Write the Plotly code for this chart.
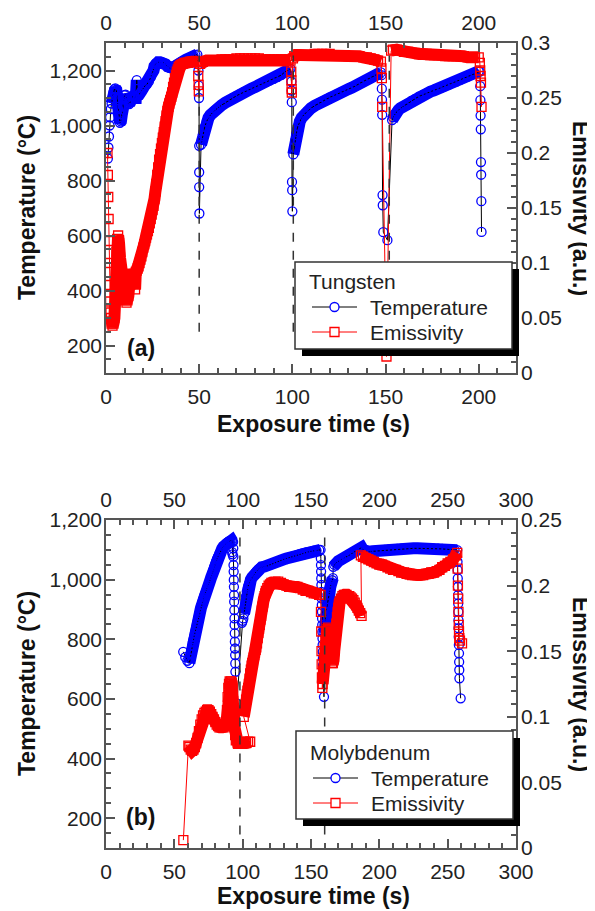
import plotly.graph_objects as go

FONT = "Arial, 'Liberation Sans', sans-serif"
W, H = 595, 911
PAGE = 8  # default body margin of the html page

# ---------------- (a) Tungsten ----------------
w_temp_time = [1.0, 1.3, 1.6, 1.9, 2.2, 2.6, 3.0, 3.5, 4.0, 4.5, 5.0, 5.5, 6.0, 6.5, 7.0, 7.5, 8.0, 8.5, 9.0, 9.5,
               10.0, 10.5, 11.0, 11.5, 12.0, 12.5, 13.0, 13.5, 14.0, 14.5, 15.0, 15.5, 16.0, 16.5, 17.0, 17.5, 18.0, 19.0, 20.0,
               21, 22, 23, 24, 25, 25.5, 26, 26.5, 27, 28, 29, 30, 31, 32, 33, 34, 35, 36, 37, 38, 39, 40,
               41, 42, 43, 44, 45, 46, 47, 48, 49,
               49.6, 49.8, 49.9, 50.0, 50.0, 50.0, 50.1,
               51.0, 51.5, 52.0, 52.5, 53.0, 54, 55, 56, 57, 58, 59, 60, 62, 64, 66, 68, 70, 72, 74, 76, 78, 80,
               82, 84, 86, 88, 90, 92, 94, 96, 98, 99,
               99.5, 99.6, 99.7, 99.8, 99.9, 100.0,
               100.5, 101, 101.5, 102, 102.5, 103, 104, 105, 106, 107, 108, 110, 112, 114, 116, 118, 120, 122, 124,
               126, 128, 130, 132, 134, 136, 138, 140, 142, 144, 146, 147.5,
               147.8, 148.0, 148.1, 148.2, 148.4, 148.5, 148.8, 151.0,
               153.5, 154, 155, 156, 157, 158, 160, 162, 164, 166, 168, 170, 172, 174, 176, 178, 180, 182, 184, 186,
               188, 190, 192, 194, 196, 198, 200,
               200.6, 200.8, 200.9, 201.0, 201.1, 201.2, 201.3, 201.4, 201.5]
w_temp = [880, 920, 960, 1000, 1030, 1060, 1080, 1100, 1120, 1132, 1135, 1130, 1100, 1060, 1030, 1010, 1015, 1040, 1070, 1095,
          1110, 1112, 1100, 1090, 1080, 1078, 1085, 1095, 1105, 1110, 1105, 1100, 1100, 1165, 1105, 1110, 1115, 1125, 1135,
          1145, 1150, 1160, 1175, 1192, 1200, 1215, 1225, 1228, 1230, 1230, 1230, 1228, 1222, 1215, 1210, 1208, 1210, 1215,
          1222, 1226, 1230,
          1233, 1236, 1240, 1243, 1246, 1250, 1254, 1256, 1258,
          1200, 1145, 1100, 926, 830, 776, 680,
          930, 950, 968, 982, 995, 1015, 1028, 1038, 1046, 1053, 1059, 1064, 1074, 1083, 1092, 1100, 1108, 1115, 1122, 1128,
          1134, 1140, 1146, 1152, 1158, 1164, 1170, 1176, 1183, 1195, 1203, 1206,
          1160, 1127, 1085, 795, 765, 688,
          895, 920, 945, 965, 985, 998, 1015, 1028, 1038, 1045, 1052, 1063, 1072, 1080, 1088, 1095, 1102, 1108, 1114,
          1120, 1126, 1132, 1138, 1144, 1153, 1160, 1167, 1174, 1181, 1189, 1193,
          1183, 1134, 1094, 1039, 747, 710, 612, 583,
          1020, 1030, 1042, 1050, 1057, 1063, 1072, 1080, 1090, 1098, 1106, 1112, 1118, 1123, 1128, 1133, 1138, 1143, 1149,
          1155, 1160, 1166, 1172, 1178, 1184, 1190, 1197,
          1196, 1143, 1092, 1036, 986, 867, 821, 725, 613]
# index ranges of the densely sampled heating runs (drawn as solid bands)
w_temp_runs = [(6, 70), (77, 109), (115, 146), (154, 181)]

w_emis_time = [0.8, 1.0, 1.2, 1.4, 1.6, 1.8, 2.0, 2.2, 2.4, 2.7, 3.0, 3.5, 4.0, 4.5, 5.0, 5.3, 5.6, 6.0, 6.5, 7.0,
               7.5, 8.0, 8.5, 9.0, 9.5, 10.0, 10.5, 11.0, 11.5, 12.0, 12.5, 13.0, 13.5, 14.0, 14.5, 15.0, 15.6, 16.0, 16.5, 17.0,
               17.5, 18.0, 18.5, 19.0, 19.5, 20.0, 20.5, 21.0, 21.5, 22.0, 22.5, 23.0, 23.5, 24.0, 24.5, 25.0, 25.5, 26.0, 26.5, 27.0,
               27.5, 28.0, 28.5, 29.0, 29.5, 30.0, 30.5, 31.0, 31.5, 32.0, 32.5, 33.0, 33.5, 34.0, 34.5, 35.0, 35.5, 36.0, 36.5, 37.0,
               37.5, 38.0, 38.5, 39.0, 39.5, 40, 41, 42, 43, 44, 45, 46, 47, 48, 49,
               49.5, 49.7, 49.8,
               50.5, 52, 54, 56, 58, 60, 62, 64, 66, 68, 70, 72, 74, 76, 78, 80, 82, 84, 86, 88, 90, 92, 94, 96, 98, 99,
               99.4, 99.5, 99.6, 99.7,
               100.3, 101, 102, 104, 106, 108, 110, 112, 114, 116, 118, 120, 122, 124, 126, 128, 130, 132, 134, 136, 138,
               140, 142, 144, 146, 147.5,
               147.8, 148.0, 148.2, 150.5,
               153, 154, 156, 158, 160, 162, 164, 166, 168, 170, 172, 174, 176, 178, 180, 182, 184, 186, 188, 190, 192,
               194, 196, 198, 200,
               200.6, 200.8, 201.0, 201.2, 201.5]
w_emis = [.200, .180, .160, .140, .120, .100, .080, .065, .055, .050, .045, .043, .045, .050, .070, .090, .110, .122, .125, .118,
          .105, .092, .082, .075, .070, .068, .066, .064, .066, .070, .080, .088, .090, .090, .089, .090, .076, .092, .093, .095,
          .097, .100, .103, .106, .110, .114, .117, .120, .123, .126, .129, .132, .136, .140, .144, .148, .152, .158, .165, .172,
          .180, .187, .194, .199, .204, .209, .214, .219, .224, .229, .234, .238, .242, .245, .248, .251, .255, .260, .264, .268,
          .271, .274, .276, .278, .279, .280, .281, .282, .282, .282, .283, .283, .283, .283, .283,
          .270, .262, .256,
          .281, .283, .284, .284, .284, .284, .285, .285, .285, .285, .286, .286, .286, .286, .286, .286, .286, .285, .285,
          .285, .285, .285, .285, .285, .285, .284,
          .274, .266, .258, .255,
          .286, .288, .289, .289, .289, .289, .289, .290, .290, .290, .290, .290, .289, .289, .289, .289, .288, .288, .288,
          .288, .287, .287, .286, .285, .284, .283,
          .277, .268, .242, .015,
          .293, .294, .294, .293, .292, .292, .291, .291, .290, .290, .290, .289, .289, .289, .289, .288, .288, .288, .288,
          .288, .288, .287, .287, .287, .287,
          .282, .275, .270, .264, .242]
w_emis_runs = [(9, 95), (98, 124), (128, 154), (158, 183)]

w_cool_marks = [50, 100.5, 152]          # dashed markers, s
w_cool_span = [250, 1255]                # degC

# ---------------- (b) Molybdenum ----------------
m_temp_time = [56.5, 58.0, 59.5, 61.0, 61.5, 62.0, 62.5, 63.0, 63.5, 64.0, 64.5, 65.0, 65.5, 66.0, 66.5, 67.0, 67.5, 68.0, 68.5, 69.0,
               69.5, 70.0, 70.5, 71.0, 71.5, 72.0, 72.5, 73.0, 73.5, 74.0, 74.5, 75.0, 75.5, 76.0, 76.5, 77.0, 77.5, 78.0, 78.5, 79.0,
               79.5, 80.0, 80.5, 81.0, 81.5, 82.0, 83.0, 84.0, 85.0, 86.0, 87.0, 88.0, 89.0, 90.0, 91.0, 92.0, 92.5, 92.3, 92.6,
               93.0, 93.1, 93.2, 93.3, 93.4, 93.5, 93.6, 93.7, 93.8, 93.9, 94.0, 94.1, 94.2, 94.3, 94.4, 94.5, 94.6, 94.7, 95.7,
               99.5, 100.0, 100.5, 101.0, 101.5, 102.0, 102.5, 103.0, 103.5, 104.0, 104.5, 105.0, 106, 107, 108, 109, 110, 111, 112, 113,
               114, 116, 118, 120, 122, 124, 126, 128, 130, 132, 134, 136, 138, 140, 142, 144, 146, 148, 150, 152, 154, 156, 157,
               157.2, 157.3, 157.4, 157.5, 157.6, 157.7, 157.8, 157.9, 158.0, 158.1, 158.2, 158.3, 158.4, 158.5, 158.6, 158.7,
               158.8, 158.9, 159.0, 159.5,
               159.8, 160.2, 160.6, 161.0, 161.5, 162.0, 162.5, 163.0, 163.5, 164.0, 164.5, 165.0, 165.5, 166.0,
               166.3, 167, 168, 169, 170, 171, 172, 174, 176, 178, 180, 182, 184, 186, 187, 188, 190, 192, 195, 198,
               201, 204, 207, 210, 213, 216, 219, 222, 225, 228, 231, 234, 237, 240, 243, 246, 249, 252, 255, 257,
               257.2, 257.3, 257.4, 257.5, 257.6, 257.7, 257.8, 257.9, 258.0, 258.1, 258.2, 258.3, 258.4, 258.5, 258.6, 259.5]
m_temp = [758, 740, 728, 720, 735, 750, 765, 778, 790, 800, 810, 820, 830, 840, 850, 860, 870, 880, 888, 895,
          905, 915, 925, 933, 940, 947, 953, 958, 963, 968, 974, 980, 987, 994, 1001, 1008, 1016, 1024, 1032, 1040,
          1047, 1054, 1060, 1066, 1072, 1077, 1087, 1096, 1104, 1111, 1117, 1122, 1126, 1129, 1131, 1132, 1128, 1092, 1085,
          1127, 1105, 1077, 1049, 1027, 999, 976, 948, 926, 898, 870, 848, 820, 792, 769, 747, 719, 691, 585,
          855, 862, 870, 885, 905, 925, 945, 960, 970, 978, 985, 990, 1000, 1008, 1015, 1022, 1028, 1033, 1037, 1040,
          1042, 1044, 1046, 1050, 1054, 1058, 1062, 1065, 1068, 1071, 1074, 1077, 1080, 1083, 1086, 1089, 1091, 1093, 1095,
          1097, 1098, 1099, 1100,
          1071, 1049, 1027, 1004, 982, 959, 937, 915, 892, 870, 848, 825, 803, 781, 758, 736, 713, 691, 669, 607,
          820, 850, 870, 890, 905, 920, 935, 950, 962, 972, 982, 990, 998, 1005,
          1043, 1050, 1055, 1058, 1062, 1065, 1068, 1072, 1076, 1082, 1088, 1094, 1100, 1106, 1108, 1100, 1095, 1094, 1095, 1097,
          1099, 1100, 1101, 1102, 1103, 1104, 1104, 1105, 1105, 1105, 1105, 1105, 1105, 1104, 1104, 1103, 1102, 1101, 1100, 1099,
          1060, 1032, 1004, 976, 948, 920, 892, 864, 837, 808, 781, 753, 724, 697, 669, 602]
m_temp_runs = [(3, 57), (81, 121), (141, 155), (155, 195)]

m_emis_time = [56.6,
               60.3, 61, 62, 63, 64, 65, 66, 67, 68, 69, 70, 71, 72, 73, 74, 75, 76, 77, 78, 79,
               80, 81, 82, 83, 84, 85, 86, 87, 88, 88.5, 89, 89.5, 90, 90.5, 91, 91.5, 92, 92.5, 93, 93.5,
               94, 94.5, 95, 96.5, 98, 99.5, 101, 102.5, 104, 105.5,
               100.8, 101.5, 102, 102.5, 103, 103.5, 104, 104.5, 105, 105.5, 106, 106.5, 107, 107.5, 108, 108.5, 109, 109.5, 110, 110.5,
               111, 111.5, 112, 112.5, 113, 113.5, 114, 114.5, 115, 115.5, 116, 116.5, 117, 118, 119, 120, 121, 122, 124, 126,
               128, 130, 132, 134, 136, 138, 140, 142, 144, 146, 148, 150, 152, 154, 156, 157,
               157.3, 157.5, 157.7, 157.8, 158.0, 158.3,
               158.5, 159, 159.5, 160, 160.5, 161, 161.5, 162, 162.5, 163, 163.5, 164, 164.5, 165, 165.5, 166, 166.5, 167, 167.5, 168,
               168.5, 169, 169.5, 170, 170.5, 171, 172, 173, 174, 175, 176, 177, 178, 179, 180, 181, 182, 183, 184, 185,
               186, 187,
               186.5, 188, 190, 192, 194, 196, 198, 200, 202, 204, 206, 208, 210, 212, 214, 216, 218, 220, 222, 224,
               226, 228, 230, 232, 234, 236, 238, 240, 242, 244, 246, 248, 250, 252, 254, 256, 257,
               257.3, 257.5, 257.7, 257.9, 258.1, 258.3, 258.5, 259.0, 260.5]
m_emis = [.006,
          .078, .077, .075, .074, .075, .077, .080, .084, .089, .094, .098, .101, .103, .104, .105, .105, .104, .102, .100, .098,
          .096, .094, .093, .092, .092, .092, .092, .093, .095, .105, .115, .122, .125, .127, .126, .127, .126, .122, .112, .100,
          .092, .086, .082, .080, .080, .081, .080, .080, .081, .081,
          .100, .105, .109, .113, .117, .120, .122, .125, .129, .133, .136, .139, .141, .143, .145, .147, .149, .151, .153, .156,
          .160, .164, .167, .170, .174, .177, .181, .184, .187, .190, .192, .194, .196, .198, .200, .201, .202, .202, .203, .203,
          .202, .201, .200, .199, .199, .199, .199, .198, .197, .196, .196, .195, .194, .194, .193, .193,
          .180, .165, .150, .140, .130, .122,
          .125, .135, .145, .153, .158, .162, .165, .167, .168, .166, .160, .153, .147, .143, .141, .141, .143, .150, .158, .165,
          .171, .176, .180, .183, .186, .188, .190, .192, .193, .193, .193, .192, .192, .191, .190, .189, .187, .185, .183, .181,
          .179, .177,
          .223, .222, .221, .220, .219, .218, .217, .216, .216, .215, .214, .213, .212, .212, .211, .210, .210, .209, .209, .208,
          .208, .208, .208, .208, .209, .209, .210, .210, .211, .212, .214, .215, .217, .218, .220, .223, .225,
          .213, .200, .190, .180, .170, .165, .160, .158, .156]
m_emis_runs = [(1, 51), (51, 107), (113, 155), (155, 192)]

m_cool_marks = [98, 160]
m_cool_span = [145, 1170]

series_names = ["Temperature", "Emissivity"]
panel_materials = ["Tungsten", "Molybdenum"]

assert len(w_temp_time) == len(w_temp) and len(w_emis_time) == len(w_emis)
assert len(m_temp_time) == len(m_temp) and len(m_emis_time) == len(m_emis)

BLUE, RED = "#0000ff", "#ff0000"


def px(x):
    return (x - PAGE) / W


def py(y):
    return 1 - (y - PAGE) / H


def series(fig, t, v, runs, color, symbol, linecolor, xa, ya):
    # dense runs: many overlapping markers read as a solid band
    for a, b in runs:
        fig.add_trace(go.Scatter(x=t[a:b], y=v[a:b], xaxis=xa, yaxis=ya, mode="lines",
                                 line=dict(color=color, width=12), showlegend=False, hoverinfo="skip"))
    fig.add_trace(go.Scatter(x=t, y=v, xaxis=xa, yaxis=ya, showlegend=False,
                             mode="lines+markers", line=dict(color=linecolor, width=1),
                             marker=dict(symbol=symbol, size=9, color=color, line=dict(width=1.3, color=color))))


fig = go.Figure()
series(fig, w_temp_time, w_temp, w_temp_runs, BLUE, "circle-open", "black", "x", "y")
series(fig, w_emis_time, w_emis, w_emis_runs, RED, "square-open", RED, "x", "y2")
fig.add_trace(go.Scatter(x=[None], y=[None], xaxis="x3", yaxis="y", showlegend=False, hoverinfo="skip"))
series(fig, m_temp_time, m_temp, m_temp_runs, BLUE, "circle-open", "black", "x2", "y3")
series(fig, m_emis_time, m_emis, m_emis_runs, RED, "square-open", RED, "x2", "y4")
fig.add_trace(go.Scatter(x=[None], y=[None], xaxis="x4", yaxis="y3", showlegend=False, hoverinfo="skip"))


def ax(rng, dtick, minor, standoff, **kw):
    d = dict(range=rng, tick0=0, dtick=dtick, showline=True, linecolor="#555", linewidth=1.5,
             ticks="inside", ticklen=9, tickwidth=1.5, tickcolor="#555", automargin=False,
             showgrid=False, zeroline=False, ticklabelstandoff=standoff,
             tickfont=dict(family=FONT, size=21, color="#222"),
             minor=dict(dtick=minor, ticks="inside", ticklen=5, tickwidth=1.5, tickcolor="#555", showgrid=False))
    d.update(kw)
    return d


xd = [px(106), px(516)]
ya = [py(373), py(43)]
yb = [py(848), py(520)]

fig.update_layout(
    width=W, height=H, margin=dict(l=0, r=0, t=0, b=0, autoexpand=False),
    plot_bgcolor="white", paper_bgcolor="white", showlegend=False,
    xaxis=ax([0, 220], 50, 10, 4, domain=xd, anchor="y"),
    xaxis3=ax([0, 220], 50, 10, 3, overlaying="x", side="top", anchor="y"),
    yaxis=ax([100, 1300], 200, 50, -2, domain=ya, anchor="x", tickformat=","),
    yaxis2=ax([0, 0.3], 0.05, 0.01, -1, overlaying="y", side="right", anchor="x"),
    xaxis2=ax([0, 300], 50, 10, 4, domain=xd, anchor="y3"),
    xaxis4=ax([0, 300], 50, 10, 3, overlaying="x2", side="top", anchor="y3"),
    yaxis3=ax([100, 1200], 200, 50, -2, domain=yb, anchor="x2", tickformat=","),
    yaxis4=ax([0, 0.25], 0.05, 0.01, -1, overlaying="y3", side="right", anchor="x2"),
)

shapes = []
for t in w_cool_marks:
    shapes.append(dict(type="line", xref="x", yref="y", x0=t, x1=t, y0=w_cool_span[0], y1=w_cool_span[1],
                       line=dict(color="#333", width=1.5, dash="dash"), layer="above"))
for t in m_cool_marks:
    shapes.append(dict(type="line", xref="x2", yref="y3", x0=t, x1=t, y0=m_cool_span[0], y1=m_cool_span[1],
                       line=dict(color="#333", width=1.5, dash="dash"), layer="above"))

leg_font = dict(family=FONT, size=21, color="#222")
ann = []
# legend boxes (with drop shadow), drawn by hand: box, title row, two entry rows
for (x0, y0, x1, y1), rows, title in [((295, 262, 512, 349), (282, 307, 332), panel_materials[0]),
                                       ((296, 731, 513, 819), (752, 778, 803), panel_materials[1])]:
    shapes.append(dict(type="rect", xref="paper", yref="paper", x0=px(x0 + 7), x1=px(x1 + 7),
                       y0=py(y1 + 7), y1=py(y0 + 7), fillcolor="black", line=dict(width=0), layer="above"))
    shapes.append(dict(type="rect", xref="paper", yref="paper", x0=px(x0), x1=px(x1),
                       y0=py(y1), y1=py(y0), fillcolor="white", line=dict(color="#333", width=1.5), layer="above"))
    ann.append(dict(text=title, x=px(x0 + 12), y=py(rows[0]), xanchor="left", font=leg_font))
    lx0, lx1 = x0 + 17, x0 + 62
    cx = (lx0 + lx1) / 2
    for yr, name, col, lcol, kind in [(rows[1], series_names[0], BLUE, "black", "circle"),
                                      (rows[2], series_names[1], RED, RED, "rect")]:
        shapes.append(dict(type="line", xref="paper", yref="paper", x0=px(lx0), x1=px(lx1), y0=py(yr), y1=py(yr),
                           line=dict(color=lcol, width=1), layer="above"))
        shapes.append(dict(type=kind, xref="paper", yref="paper", x0=px(cx - 4.5), x1=px(cx + 4.5),
                           y0=py(yr + 4.5), y1=py(yr - 4.5), fillcolor="white",
                           line=dict(color=col, width=1.3), layer="above"))
        ann.append(dict(text=name, x=px(x0 + 73), y=py(yr), xanchor="left", font=leg_font))
fig.update_layout(shapes=shapes)

title_font = dict(family=FONT, size=23, color="#111")
for yc, xl in [(208, 424), (684, 896)]:
    ann.append(dict(text="<b>Temperature (°C)</b>", x=px(27), y=py(yc), textangle=-90, font=title_font))
    ann.append(dict(text="<b>Emissivity (a.u.)</b>", x=px(581), y=py(yc), textangle=90, font=title_font))
    ann.append(dict(text="<b>Exposure time (s)</b>", x=px(314), y=py(xl), font=title_font))
ann.append(dict(text="<b>(a)</b>", x=px(141), y=py(348), font=title_font))
ann.append(dict(text="<b>(b)</b>", x=px(140), y=py(817), font=title_font))
for a in ann:
    a.setdefault("xanchor", "center")
    a.update(xref="paper", yref="paper", showarrow=False, yanchor="middle")
fig.update_layout(annotations=ann)

fig.write_html("out.html")
